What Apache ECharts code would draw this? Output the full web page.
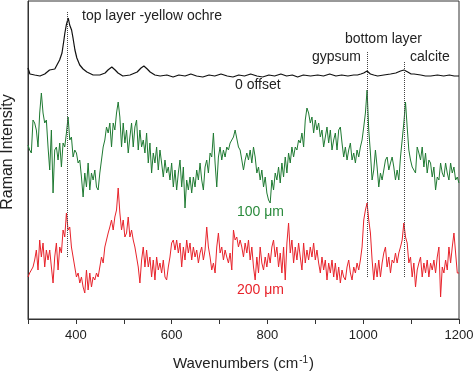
<!DOCTYPE html>
<html>
<head>
<meta charset="utf-8">
<script src="https://cdn.jsdelivr.net/npm/echarts@6/dist/echarts.min.js"></script>
<style>
html,body{margin:0;padding:0;background:#fff;}
#chart{width:474px;height:372px;}
</style>
</head>
<body>
<div id="chart"></div>
<script>
// Wavenumber grid of the two noisy spectra (cm-1)
const waveStart = 300;
const waveStep = 3.488;

// 100 um spectrum (offset, arbitrary units)
const green100 = [
174,169,166,199,196,189,172,206,226,206,196,199,172,149,189,126,169,172,159,176,
152,176,172,186,202,179,182,162,169,166,156,159,142,122,146,132,156,129,146,139,
149,132,129,146,159,172,179,192,186,196,172,196,189,206,217,202,172,196,176,189,
166,182,196,172,192,199,169,189,172,179,166,186,156,176,146,166,156,172,149,169,
156,142,159,146,152,139,156,132,149,129,146,159,132,152,111,139,129,142,126,142,
132,149,139,156,139,129,152,159,146,166,162,186,156,132,162,172,159,169,162,172,
169,176,179,182,189,187,172,
169,159,149,159,166,159,169,156,172,162,146,152,139,149,132,142,126,119,116,139,
129,146,139,152,136,156,142,162,146,166,156,172,162,172,169,179,176,186,172,199,
211,206,196,202,186,199,189,196,182,189,172,182,192,176,189,169,179,186,169,189,
192,176,162,172,159,169,176,159,166,156,169,162,172,179,192,206,229,189,166,139,
149,169,152,132,146,139,149,159,162,149,156,162,152,139,149,139,162,179,196,217,
192,169,159,152,149,146,172,166,159,172,152,166,146,159,156,142,152,129,142,139,
156,146,142,156,146,139,156,146,152,139,142,136
];

// 200 um spectrum (offset, arbitrary units)
const red200 = [
42,46,49,52,59,69,49,79,62,76,52,69,59,69,52,36,62,76,49,72,
66,89,82,106,89,92,72,62,52,42,46,36,42,32,26,49,29,46,32,42,
39,46,42,52,62,56,72,79,86,92,99,89,102,109,131,106,89,99,82,86,
102,82,89,79,72,62,52,36,59,72,52,69,52,62,42,59,39,62,49,56,
46,59,42,39,52,62,76,79,69,79,66,76,52,72,59,79,66,76,59,72,
62,69,56,66,72,59,69,92,72,62,49,56,46,72,86,66,72,59,69,62,
56,66,49,89,79,82,72,
79,72,62,76,66,79,59,72,52,39,62,46,72,56,49,62,52,66,56,72,
79,62,72,52,66,46,72,39,76,96,66,79,56,72,59,76,62,49,76,56,
69,59,72,62,76,59,69,56,46,62,49,59,39,56,46,59,42,56,39,52,
36,49,42,39,52,59,46,39,52,46,56,49,59,72,99,109,116,99,86,59,
39,56,42,59,42,56,66,72,52,62,46,59,56,66,56,66,72,79,96,82,
76,56,62,42,56,32,49,56,62,42,56,46,59,42,56,49,59,46,62,72,
22,52,46,59,49,72,56,72,86,66,46,46
];

// 0 offset spectrum (top layer)
const blackWave = [300,304,314,325,335,345,356,360,366,371,375,377,380,384,387,391,394,398,402,408,
415,423,436,450,461,467,475,482,488,498,513,528,536,542,549,555,565,576,590,603,
615,628,640,652,665,678,690,703,716,728,740,752,765,778,790,803,815,828,840,852,
863,875,890,905,917,930,943,955,968,980,988,995,1001,1008,1015,1022,1030,1043,1057,1068,
1078,1085,1093,1100,1106,1120,1130,1141,1155,1168,1180,1190,1200];
const blackIntensity = [251,245,244,243,245,249,250,252,259,266,279,286,294,301,294,289,281,269,261,254,
250,247,244,244,246,249,252,249,246,243,244,247,251,253,250,247,244,243,244,242,
244,243,245,243,242,244,243,245,243,242,244,243,245,243,242,244,243,245,243,244,
242,244,243,244,243,245,243,244,243,244,244,245,246,248,245,244,243,244,245,246,
248,249,247,245,245,244,243,243,244,243,244,243,243];

// Reference peak positions (dotted markers): wavenumber, top, bottom
const peakWave = [383, 1008, 1086];
const peakTop = [307, 267, 257];
const peakBottom = [62, 41, 41];

// X tick labels
const xTickLabels = [400, 600, 800, 1000, 1200];

const toPairs = arr => arr.map((v, i) => [waveStart + i * waveStep, v]);
const blackPairs = blackWave.map((w, i) => [w, blackIntensity[i]]);

const FONT = 'Arial, "Liberation Sans", sans-serif';
const chart = echarts.init(document.getElementById('chart'), null, {renderer: 'canvas'});

const option = {
  animation: false,
  backgroundColor: '#fff',
  grid: {left: 28, right: 15, top: 1, bottom: 53, containLabel: false, outerBoundsMode: 'none',
         show: true, borderColor: '#333', borderWidth: 1, backgroundColor: 'transparent'},
  xAxis: {
    type: 'value', min: 300, max: 1200, interval: 100,
    axisLine: {show: true, lineStyle: {color: '#333', width: 1}},
    axisTick: {show: true, inside: false, length: 5, lineStyle: {color: '#333'}},
    splitLine: {show: false},
    axisLabel: {
      color: '#222', fontSize: 13, fontFamily: FONT, margin: 10, showMaxLabel: true, hideOverlap: false,
      formatter: v => xTickLabels.indexOf(v) >= 0 ? String(v) : ''
    },
    name: '{a|Wavenumbers (cm}{s|-1}{a|)}',
    nameLocation: 'middle', nameGap: 36,
    nameTextStyle: {
      color: '#222', fontFamily: FONT,
      rich: {
        a: {fontSize: 15, fontFamily: FONT, color: '#222'},
        s: {fontSize: 10, fontFamily: FONT, color: '#222', verticalAlign: 'top', padding: [0, 1, 8, 1]}
      }
    }
  },
  yAxis: {
    type: 'value', min: 0, max: 318,
    axisLine: {show: true, lineStyle: {color: '#333', width: 1}},
    axisTick: {show: false}, axisLabel: {show: false}, splitLine: {show: false},
    name: 'Raman Intensity', nameLocation: 'middle', nameGap: 12,
    nameTextStyle: {color: '#222', fontSize: 16, fontFamily: FONT, padding: [0, 0, 0, 16]}
  },
  series: [
    {
      type: 'line', data: blackPairs, showSymbol: false, symbol: 'none',
      lineStyle: {color: '#111', width: 1.2}, z: 3,
      markLine: {
        silent: true, symbol: ['none', 'none'], label: {show: false},
        lineStyle: {color: '#444', type: 'dotted', width: 1},
        data: peakWave.map((w, i) => [{coord: [w, peakTop[i]]}, {coord: [w, peakBottom[i]]}])
      }
    },
    {type: 'line', data: toPairs(green100), showSymbol: false, symbol: 'none', lineStyle: {color: '#1f7a32', width: 1}},
    {type: 'line', data: toPairs(red200), showSymbol: false, symbol: 'none', lineStyle: {color: '#e8232b', width: 1}}
  ],
  graphic: [
    {type: 'text', left: 82, top: 9, style: {text: 'top layer -yellow ochre', font: '14px ' + FONT, fill: '#222'}},
    {type: 'text', left: 345, top: 32, style: {text: 'bottom layer', font: '14px ' + FONT, fill: '#222'}},
    {type: 'text', left: 312, top: 50, style: {text: 'gypsum', font: '14px ' + FONT, fill: '#222'}},
    {type: 'text', left: 410, top: 50, style: {text: 'calcite', font: '14px ' + FONT, fill: '#222'}},
    {type: 'text', left: 235, top: 78, style: {text: '0 offset', font: '14px ' + FONT, fill: '#222'}},
    {type: 'text', left: 237, top: 205, style: {text: '100 \u03bcm', font: '14px ' + FONT, fill: '#2a8a3c'}},
    {type: 'text', left: 237, top: 283, style: {text: '200 \u03bcm', font: '14px ' + FONT, fill: '#e8232b'}}
  ]
};
chart.setOption(option);
</script>
</body>
</html>
